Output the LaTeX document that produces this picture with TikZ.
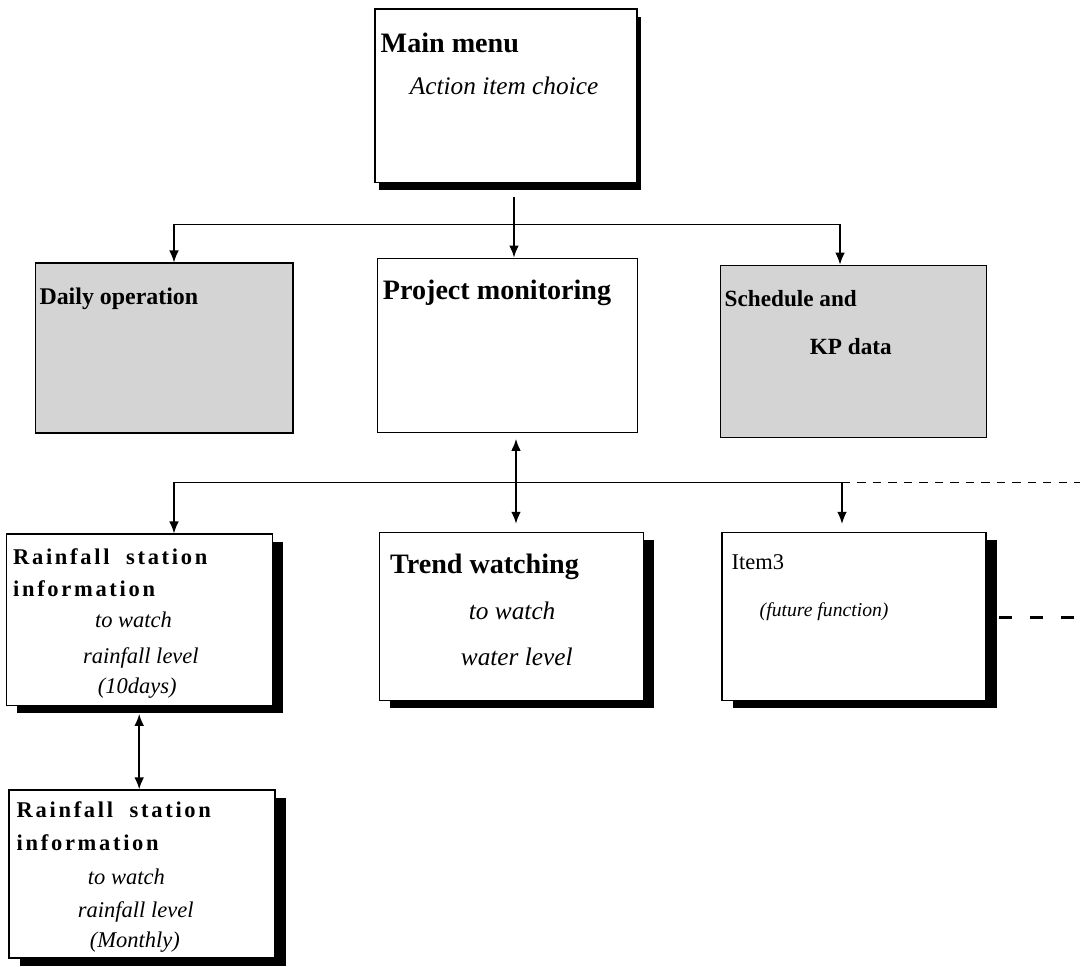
\documentclass[tikz,border=0pt]{standalone}
\usepackage{fontspec}
\setmainfont{Liberation Serif}
\usetikzlibrary{positioning, arrows.meta, shadows}

\tikzset{
    menubox/.style={draw, rectangle, line width=0.8pt, inner sep=0pt, fill=white},
    shadowbox/.style={menubox, drop shadow={shadow xshift=0.28cm, shadow yshift=-0.2cm, fill=black, opacity=1}},
    greybox/.style={menubox, fill=black!17},
    head/.style={anchor=base west, inner sep=0pt, font=\fontsize{#1}{#1}\selectfont\bfseries},
    head/.default=19,
    spaced/.style={anchor=base west, inner sep=0pt, font=\fontsize{#1}{#1}\selectfont\bfseries\addfontfeatures{LetterSpace=12}},
    spaced/.default=16,
    sub/.style={anchor=base west, inner sep=0pt, font=\fontsize{#1}{#1}\selectfont\itshape},
    sub/.default=17,
    link/.style={line width=1.3pt, -{Latex[length=3mm, width=2.4mm]}},
    twoway/.style={line width=1.3pt, {Latex[length=3mm, width=2.4mm]}-{Latex[length=3mm, width=2.4mm]}},
    bus/.style={line width=0.6pt}
}

\begin{document}
\begin{tikzpicture}
    \useasboundingbox (0,0) rectangle (27,-24.15);

    % boxes
    \node[menubox, minimum width=6.55cm, minimum height=4.33cm,
        drop shadow={shadow xshift=0.1cm, shadow yshift=-0.2cm, fill=black, opacity=1}] (main) at (12.65,-2.39) {};
    \node[greybox, minimum width=6.43cm, minimum height=4.25cm] (daily) at (4.11,-8.7) {};
    \node[menubox, minimum width=6.5cm, minimum height=4.35cm] (proj) at (12.68,-8.63) {};
    \node[greybox, minimum width=6.65cm, minimum height=4.3cm] (sched) at (21.33,-8.78) {};
    \node[shadowbox, minimum width=6.65cm, minimum height=4.28cm] (rain1) at (3.48,-15.49) {};
    \node[shadowbox, minimum width=6.6cm, minimum height=4.2cm] (trend) at (12.78,-15.41) {};
    \node[shadowbox, minimum width=6.6cm, minimum height=4.2cm] (item) at (21.35,-15.41) {};
    \node[shadowbox, minimum width=6.65cm, minimum height=4.2cm] (rain2) at (3.55,-21.85) {};

    % texts
    \node[head=20] (mainT) at ([shift={(0.15,-1.1)}]main.north west) {Main menu};
    \node[sub=18] (mainS) at ([shift={(0.88,-2.15)}]main.north west) {Action item choice};
    \node[head=17] (dailyT) at ([shift={(0.1,-1.05)}]daily.north west) {Daily operation};
    \node[head=20] (projT) at ([shift={(0.15,-1.05)}]proj.north west) {Project\ monitoring};
    \node[head=16.5] (schedT) at ([shift={(0.12,-1.05)}]sched.north west) {Schedule and};
    \node[head=16.5] (schedS) at ([shift={(2.25,-2.25)}]sched.north west) {KP data};

    \node[spaced] (rain1T) at ([shift={(0.18,-0.78)}]rain1.north west) {Rainfall\ \ station};
    \node[spaced] (rain1U) at ([shift={(0.18,-1.58)}]rain1.north west) {information};
    \node[sub=16] (rain1S) at ([shift={(2.23,-2.35)}]rain1.north west) {to watch};
    \node[sub=16] (rain1V) at ([shift={(1.93,-3.25)}]rain1.north west) {rainfall level};
    \node[sub=16] (rain1W) at ([shift={(2.3,-4.0)}]rain1.north west) {(10days)};

    \node[head=20] (trendT) at ([shift={(0.28,-1.05)}]trend.north west) {Trend watching};
    \node[sub=18] (trendS) at ([shift={(2.25,-2.18)}]trend.north west) {to watch};
    \node[sub=18] (trendV) at ([shift={(2.05,-3.35)}]trend.north west) {water level};

    \node[anchor=base west, inner sep=0pt, font=\fontsize{16}{16}\selectfont] (itemT) at ([shift={(0.25,-0.95)}]item.north west) {Item3};
    \node[sub=14] (itemS) at ([shift={(0.95,-2.12)}]item.north west) {(future function)};

    \node[spaced] (rain2T) at ([shift={(0.2,-0.7)}]rain2.north west) {Rainfall\ \ station};
    \node[spaced] (rain2U) at ([shift={(0.2,-1.53)}]rain2.north west) {information};
    \node[sub=16] (rain2S) at ([shift={(1.98,-2.38)}]rain2.north west) {to watch};
    \node[sub=16] (rain2V) at ([shift={(1.73,-3.2)}]rain2.north west) {rainfall level};
    \node[sub=16] (rain2W) at ([shift={(2.03,-3.95)}]rain2.north west) {(Monthly)};

    % connectors
    \coordinate (bus1) at (0,-5.6);
    \coordinate (bus2) at (0,-12.05);
    \coordinate (edge) at (27,-12.05);
    \coordinate (more) at (27,-15.43);

    \draw[link] ([xshift=0.2cm, yshift=-0.35cm]main.south) -- ([xshift=0.2cm]main.south |- proj.north);
    \draw[bus] ([xshift=0.24cm]daily.north |- bus1) -- ([xshift=-0.33cm]sched.north |- bus1);
    \draw[link, line width=0.9pt] ([xshift=0.24cm]daily.north |- bus1) -- ([xshift=0.24cm]daily.north);
    \draw[link, line width=0.9pt] ([xshift=-0.33cm]sched.north |- bus1) -- ([xshift=-0.33cm]sched.north);

    \draw[twoway] ([xshift=0.22cm, yshift=-0.15cm]proj.south) -- ([xshift=0.22cm, yshift=0.2cm]proj.south |- trend.north);
    \draw[bus] ([xshift=0.87cm]rain1.north |- bus2) -- ([xshift=-0.3cm]item.north |- bus2);
    \draw[bus, dash pattern=on 6pt off 5pt] ([xshift=-0.3cm]item.north |- bus2) -- (edge);
    \draw[link, line width=0.9pt] ([xshift=0.87cm]rain1.north |- bus2) -- ([xshift=0.87cm]rain1.north);
    \draw[link, line width=0.9pt] ([xshift=-0.3cm]item.north |- bus2) -- ([xshift=-0.3cm, yshift=0.2cm]item.north);

    \draw[twoway] ([yshift=-0.2cm]rain1.south) -- (rain1.south |- rain2.north);
    \draw[line width=2pt, dash pattern=on 9pt off 13pt] ([xshift=0.32cm]item.east |- more) -- (more);
\end{tikzpicture}
\end{document}
